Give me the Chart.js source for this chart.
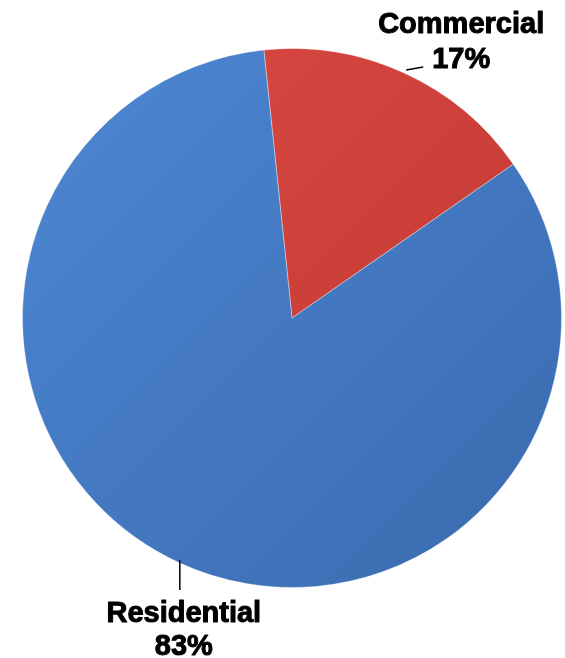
<!DOCTYPE html>
<html>
<head>
<meta charset="utf-8">
<script src="https://cdn.jsdelivr.net/npm/chart.js@4"></script>
<style>
  html, body { margin: 0; padding: 0; background: #ffffff; }
  #wrap { width: 565px; height: 658px; }
</style>
</head>
<body>
<div id="wrap"><canvas id="pie_canvas" width="565" height="658"></canvas></div>
<script>
// dados
var categorias = ['Commercial', 'Residential'];
var percentuais = [17, 83];

// cores de cada fatia (claro -> escuro)
var coresClaras = ['#dc4a43', '#4d87d4'];
var coresEscuras = ['#bd3631', '#3a6aae'];

// onde fica o texto de cada fatia em relação à borda
var rotulos = [
    { linha: [[2, -3], [19, -6]], dx: 57, base: [-40, -5] },
    { linha: [[0, -3], [0, 27]], dx: 4, base: [59, 92] }
];

function corFatia(context) {
    var chart = context.chart;
    var area = chart.chartArea;
    if (!area) return coresClaras[context.dataIndex];
    var g = chart.ctx.createLinearGradient(area.left, area.top, area.right, area.bottom);
    g.addColorStop(0, coresClaras[context.dataIndex]);
    g.addColorStop(1, coresEscuras[context.dataIndex]);
    return g;
}

var pluginRotulos = {
    id: 'rotulos',
    afterDatasetsDraw: function (chart) {
        var ctx = chart.ctx;
        var meta = chart.getDatasetMeta(0);
        meta.data.forEach(function (arc, i) {
            var meio = (arc.startAngle + arc.endAngle) / 2;
            var ex = arc.x + Math.cos(meio) * arc.outerRadius;
            var ey = arc.y + Math.sin(meio) * arc.outerRadius;
            var r = rotulos[i];
            ctx.save();
            ctx.strokeStyle = '#000';
            ctx.lineWidth = 1.5;
            ctx.beginPath();
            ctx.moveTo(ex + r.linha[0][0], ey + r.linha[0][1]);
            ctx.lineTo(ex + r.linha[1][0], ey + r.linha[1][1]);
            ctx.stroke();
            ctx.fillStyle = '#000';
            ctx.lineWidth = 1;
            ctx.lineJoin = 'round';
            ctx.font = 'bold 29px "Liberation Sans", Arial, sans-serif';
            ctx.textAlign = 'center';
            ctx.textBaseline = 'alphabetic';
            ctx.fillText(categorias[i], ex + r.dx, ey + r.base[0]);
            ctx.strokeText(categorias[i], ex + r.dx, ey + r.base[0]);
            ctx.fillText(percentuais[i] + '%', ex + r.dx, ey + r.base[1]);
            ctx.strokeText(percentuais[i] + '%', ex + r.dx, ey + r.base[1]);
            ctx.restore();
        });
    }
};

var dados = {
    labels: categorias,
    datasets: [{
        data: percentuais,
        backgroundColor: corFatia,
        borderColor: 'rgba(255,255,255,0.35)',
        borderWidth: 1
    }]
};

var config = {
    type: 'pie',
    data: dados,
    options: {
        responsive: false,
        animation: false,
        rotation: -6,
        layout: { padding: { left: 22, right: 3, top: 48, bottom: 70 } },
        plugins: {
            legend: { display: false },
            tooltip: { enabled: false }
        }
    },
    plugins: [pluginRotulos]
};

var meuGrafico = new Chart(document.getElementById('pie_canvas'), config);
</script>
</body>
</html>
